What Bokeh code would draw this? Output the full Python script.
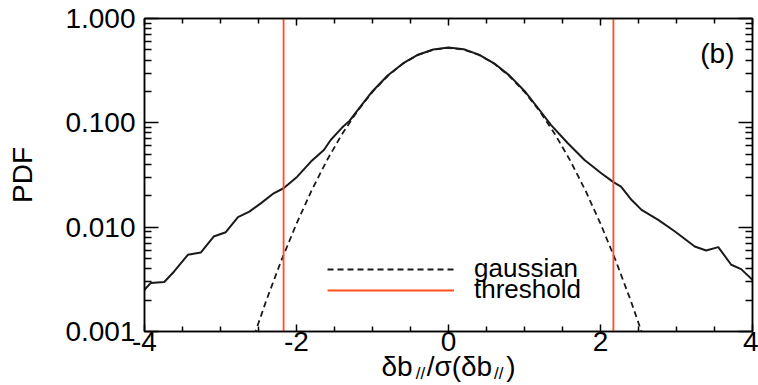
from bokeh.plotting import figure
from bokeh.models import (LinearAxis, LogAxis, FixedTicker, CustomJSTickFormatter,
                          Label, Legend, LegendItem, Range1d)
from bokeh.embed import file_html
from bokeh.resources import INLINE

# ---- data ----
pdf_x = [-4.0, -3.92, -3.74, -3.61, -3.43, -3.26, -3.09, -2.93, -2.77, -2.62, -2.47,
         -2.30, -2.17, -1.99, -1.81, -1.64, -1.55, -1.40, -1.30, -1.2, -1.0, -0.8,
         -0.6, -0.4, -0.2, 0.0, 0.2, 0.4, 0.6, 0.8, 1.0, 1.2, 1.35, 1.57, 1.79,
         2.01, 2.17, 2.27, 2.41, 2.54, 2.76, 2.98, 3.24, 3.39, 3.55, 3.72, 3.85, 4.0]
pdf_y = [0.00251, 0.00291, 0.00298, 0.00376, 0.00543, 0.00571, 0.00813, 0.00895,
         0.01247, 0.0141, 0.0169, 0.0211, 0.0236, 0.0305, 0.0425, 0.0549, 0.0685,
         0.090, 0.105, 0.131, 0.201, 0.284, 0.371, 0.450, 0.505, 0.527, 0.507,
         0.451, 0.372, 0.285, 0.202, 0.132, 0.0952, 0.0637, 0.0441, 0.0329,
         0.0270, 0.0245, 0.0182, 0.01465, 0.01175, 0.00908, 0.00652, 0.00597,
         0.00644, 0.00436, 0.00396, 0.00313]

gauss_x = [-2.6, -2.4, -2.2, -2.0, -1.8, -1.6, -1.4, -1.2, -1.0, -0.8, -0.6, -0.4,
           -0.2, 0.0, 0.2, 0.4, 0.6, 0.8, 1.0, 1.2, 1.4, 1.6, 1.8, 2.0, 2.2, 2.4, 2.6]
gauss_y = [0.000743, 0.00196, 0.00479, 0.0108, 0.0226, 0.0437, 0.0781, 0.129,
           0.198, 0.281, 0.369, 0.448, 0.503, 0.523, 0.503, 0.448, 0.369, 0.281,
           0.198, 0.129, 0.0781, 0.0437, 0.0226, 0.0108, 0.00479, 0.00196, 0.000743]

thresholds = [-2.17, 2.17]

x_lo, x_hi = -4.0, 4.0
y_lo, y_hi = 0.001, 1.0
x_major_ticks = [-4, -2, 0, 2, 4]
x_minor_ticks = [-3.5, -3.0, -2.5, -1.5, -1.0, -0.5, 0.5, 1.0, 1.5, 2.5, 3.0, 3.5]
y_major_ticks = [0.001, 0.01, 0.1, 1.0]
y_minor_ticks = [m * d for d in (0.001, 0.01, 0.1) for m in range(2, 10)]

legend_labels = ["gaussian", "threshold"]
panel_label = "(b)"
y_label = "PDF"
x_label_main = "δb\u2002/σ(δb\u2002)"   # en-spaces leave room for the subscripts
x_label_center = [0.0]
x_label_sub = "//"
x_label_sub_at = [-0.37, 0.66]           # where the two subscripts sit along x

FONT = "Liberation Sans"
ORANGE = "#ff4f1a"
INK = "#1a1a1a"

p = figure(width=758, height=385, x_range=Range1d(x_lo, x_hi),
           y_range=Range1d(y_lo, y_hi), y_axis_type="log",
           output_backend="svg", toolbar_location=None,
           min_border_left=144, min_border_right=6, min_border_top=18,
           min_border_bottom=53)
p.grid.visible = False
p.outline_line_color = "black"
p.outline_line_width = 1.5
p.background_fill_color = "white"
p.border_fill_color = "white"

xt = FixedTicker(ticks=x_major_ticks, minor_ticks=x_minor_ticks)
yt = FixedTicker(ticks=y_major_ticks, minor_ticks=y_minor_ticks)

xa = p.xaxis[0]
xa.ticker = xt
xa.formatter = CustomJSTickFormatter(code="return tick.toFixed(0);")
xa.major_tick_in = 7
xa.major_tick_out = 0
xa.minor_tick_in = 5
xa.minor_tick_out = 0
xa.axis_line_width = 1.5
xa.major_tick_line_width = 1.5
xa.minor_tick_line_width = 1.5
xa.major_label_text_font = FONT
xa.major_label_text_font_size = "28px"
xa.major_label_text_color = "black"
xa.major_label_standoff = 0


def text_axis(ticks, text, size, standoff):
    """An invisible bottom axis used only to print text below the x tick labels."""
    return LinearAxis(ticker=FixedTicker(ticks=ticks, minor_ticks=[]),
                      formatter=CustomJSTickFormatter(code="return '%s';" % text),
                      axis_line_color=None, major_tick_line_color=None,
                      minor_tick_line_color=None, major_tick_in=0, major_tick_out=0,
                      minor_tick_in=0, minor_tick_out=0,
                      major_label_text_font=FONT, major_label_text_font_size=size,
                      major_label_text_color="black", major_label_standoff=standoff)


p.add_layout(text_axis(x_label_center, x_label_main, "28px", -3), "below")
p.add_layout(text_axis(x_label_sub_at, x_label_sub, "17px", -21), "below")

ya = p.yaxis[0]
ya.ticker = yt
ya.formatter = CustomJSTickFormatter(code="return tick.toFixed(3);")
ya.major_tick_in = 14
ya.major_tick_out = 0
ya.minor_tick_in = 7
ya.minor_tick_out = 0
ya.axis_line_width = 1.5
ya.major_tick_line_width = 1.5
ya.minor_tick_line_width = 1.5
ya.major_label_text_font = FONT
ya.major_label_text_font_size = "28px"
ya.major_label_text_color = "black"
ya.major_label_standoff = 9
ya.axis_label = y_label
ya.axis_label_text_font = FONT
ya.axis_label_text_font_size = "28px"
ya.axis_label_text_font_style = "normal"
ya.axis_label_text_color = "black"
ya.axis_label_standoff = 24

blank = CustomJSTickFormatter(code="return '';")
top = LinearAxis(ticker=xt, formatter=blank, major_tick_in=7, major_tick_out=0,
                 minor_tick_in=5, minor_tick_out=0, axis_line_width=1.5,
                 major_tick_line_width=1.5, minor_tick_line_width=1.5,
                 major_label_text_font_size="10px", major_label_text_color=None,
                 major_label_standoff=0)
p.add_layout(top, "above")
right = LogAxis(ticker=yt, formatter=blank, major_tick_in=14, major_tick_out=0,
                minor_tick_in=7, minor_tick_out=0, axis_line_width=1.5,
                major_tick_line_width=1.5, minor_tick_line_width=1.5,
                major_label_text_font_size="10px", major_label_text_color=None,
                major_label_standoff=0)
p.add_layout(right, "right")

# curves
p.line(pdf_x, pdf_y, line_color=INK, line_width=2)
g_r = p.line(gauss_x, gauss_y, line_color=INK, line_width=1.8, line_dash="6 4")
t_r = p.multi_line(xs=[[t, t] for t in thresholds],
                   ys=[[y_lo, y_hi] for _ in thresholds],
                   line_color=ORANGE, line_width=1.8)

# one legend box per entry so the two rows can sit as close as in the reference
for item_label, rend, loc in [(legend_labels[0], g_r, (183, 47)),
                              (legend_labels[1], t_r, (183, 26))]:
    lg = Legend(items=[LegendItem(label=item_label, renderers=[rend])],
                location=loc, glyph_width=127, glyph_height=30,
                label_height=30, label_standoff=20, spacing=0, padding=0,
                margin=0, border_line_color=None, background_fill_alpha=0,
                label_text_font=FONT, label_text_font_size="26px",
                label_text_color="black")
    p.add_layout(lg)

# panel label
p.add_layout(Label(x=x_hi, y=y_hi, x_offset=-18, y_offset=-35, text=panel_label,
                   text_align="right", text_baseline="alphabetic",
                   text_font=FONT, text_font_size="28px", text_color="black"))

open("out.html", "w").write(file_html(p, INLINE))
